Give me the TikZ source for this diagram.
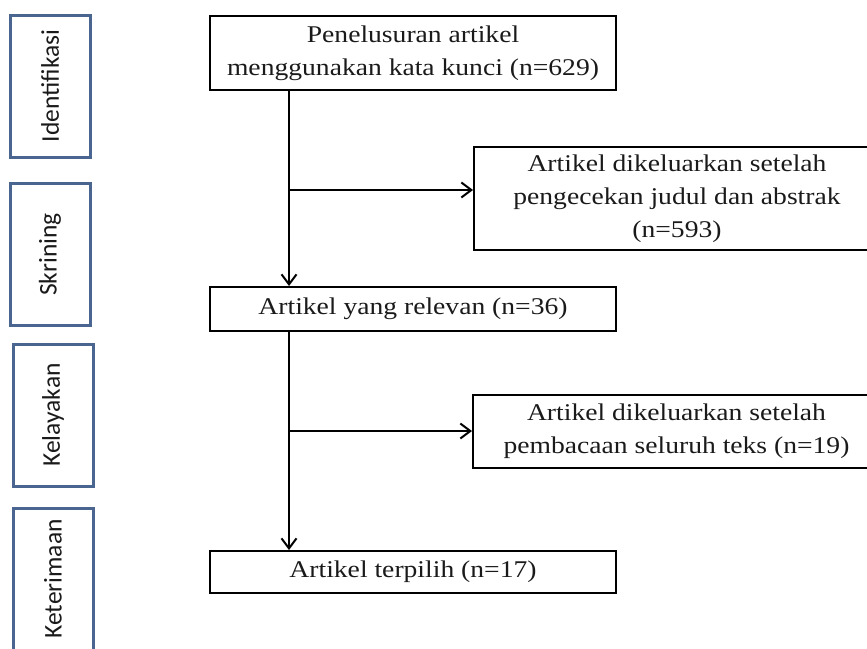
\documentclass[tikz,border=0pt]{standalone}
\usepackage{fontspec}
\setmainfont[FakeStretch=1.15]{Liberation Serif}
\newfontfamily\labelfont{Carlito}
\usetikzlibrary{arrows.meta}
\definecolor{stageblue}{HTML}{4A6590}
\definecolor{inkc}{HTML}{1A1A1A}
\begin{document}
\begin{tikzpicture}[x=1pt,y=-1pt,
  box/.style={draw=black, line width=2pt, align=center, inner sep=0pt, text=inkc,
    font=\fontsize{24}{33}\selectfont},
  stage/.style={draw=stageblue, line width=3pt, rotate=90, minimum width=142pt,
    minimum height=80pt, inner sep=0pt, text=inkc, font=\labelfont\fontsize{25.5}{30}\selectfont},
  arr/.style={line width=2pt, -{Straight Barb[length=10pt,width=15pt,line width=2pt]}}]
\useasboundingbox (0,0) rectangle (867,648);
\clip (0,0) rectangle (867,648);
% stage labels
\node[stage] (s1) at (50,86) {Identifikasi};
\node[stage] (s2) at (50,254.5) {Skrining};
\node[stage] (s3) at (53,415) {Kelayakan};
\node[stage] (s4) at (53,579) {Keterimaan};
% flow boxes
\node[box, minimum width=406pt, minimum height=74pt] (search) at (413,53)
  {Penelusuran artikel\\menggunakan kata kunci (n=629)};
\node[box, minimum width=406pt, minimum height=103pt] (excl1) at (677,198.5)
  {Artikel dikeluarkan setelah\\pengecekan judul dan abstrak\\(n=593)};
\node[box, minimum width=406pt, minimum height=44pt] (relevant) at (413,309)
  {Artikel yang relevan (n=36)};
\node[box, minimum width=407pt, minimum height=73pt] (excl2) at (676.5,431.5)
  {Artikel dikeluarkan setelah\\pembacaan seluruh teks (n=19)};
\node[box, minimum width=406pt, minimum height=42pt] (selected) at (413,572)
  {Artikel terpilih (n=17)};
% connectors
\coordinate (spine) at (289,0);
\coordinate (j1) at (289,190);
\coordinate (j2) at (289,431);
\draw[arr] (search.south -| spine) -- (relevant.north -| spine);
\draw[arr] (j1) -- (j1 -| excl1.west);
\draw[arr] (relevant.south -| spine) -- (selected.north -| spine);
\draw[arr] (j2) -- (j2 -| excl2.west);
\end{tikzpicture}
\end{document}
